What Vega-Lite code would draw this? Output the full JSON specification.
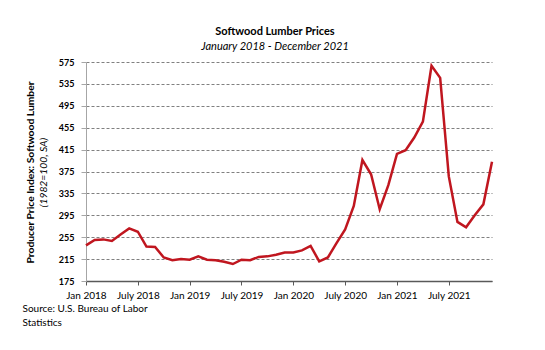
{
  "$schema": "https://vega.github.io/schema/vega-lite/v6.json",
  "width": 406,
  "height": 219,
  "autosize": "none",
  "padding": {"left": 86, "top": 62, "right": 53, "bottom": 69},
  "background": "white",
  "config": {"view": {"stroke": null}, "font": "Lato"},
  "title": {
    "text": "Softwood Lumber Prices",
    "subtitle": "January 2018 - December 2021",
    "font": "Lato", "fontSize": 11, "fontWeight": "bold", "color": "black",
    "subtitleFont": "Lato", "subtitleFontSize": 11, "subtitleFontStyle": "italic", "subtitleColor": "black",
    "anchor": "middle", "dx": -14, "offset": 6, "subtitlePadding": 4
  },
  "data": {"values": [
    {"month": "Jan 2018", "value": 240}, {"month": "Feb 2018", "value": 250}, {"month": "Mar 2018", "value": 251},
    {"month": "Apr 2018", "value": 248}, {"month": "May 2018", "value": 260}, {"month": "June 2018", "value": 271},
    {"month": "July 2018", "value": 265}, {"month": "Aug 2018", "value": 238}, {"month": "Sep 2018", "value": 237},
    {"month": "Oct 2018", "value": 218}, {"month": "Nov 2018", "value": 213}, {"month": "Dec 2018", "value": 215},
    {"month": "Jan 2019", "value": 214}, {"month": "Feb 2019", "value": 220}, {"month": "Mar 2019", "value": 214},
    {"month": "Apr 2019", "value": 213}, {"month": "May 2019", "value": 210}, {"month": "June 2019", "value": 206},
    {"month": "July 2019", "value": 214}, {"month": "Aug 2019", "value": 213}, {"month": "Sep 2019", "value": 219},
    {"month": "Oct 2019", "value": 220}, {"month": "Nov 2019", "value": 223}, {"month": "Dec 2019", "value": 227},
    {"month": "Jan 2020", "value": 227}, {"month": "Feb 2020", "value": 231}, {"month": "Mar 2020", "value": 239},
    {"month": "Apr 2020", "value": 211}, {"month": "May 2020", "value": 218}, {"month": "June 2020", "value": 244},
    {"month": "July 2020", "value": 269}, {"month": "Aug 2020", "value": 312}, {"month": "Sep 2020", "value": 396},
    {"month": "Oct 2020", "value": 370}, {"month": "Nov 2020", "value": 306}, {"month": "Dec 2020", "value": 350},
    {"month": "Jan 2021", "value": 407}, {"month": "Feb 2021", "value": 414}, {"month": "Mar 2021", "value": 437},
    {"month": "Apr 2021", "value": 466}, {"month": "May 2021", "value": 568}, {"month": "June 2021", "value": 546},
    {"month": "July 2021", "value": 366}, {"month": "Aug 2021", "value": 283}, {"month": "Sep 2021", "value": 273},
    {"month": "Oct 2021", "value": 295}, {"month": "Nov 2021", "value": 315}, {"month": "Dec 2021", "value": 393}
  ]},
  "resolve": {"axis": {"y": "independent"}},
  "layer": [
    {
      "mark": {"type": "line", "color": "#C0161F", "strokeWidth": 2.5},
      "encoding": {
        "x": {
          "field": "month", "type": "ordinal", "sort": null,
          "scale": {"type": "point", "padding": 0},
          "axis": {
            "values": ["Jan 2018", "July 2018", "Jan 2019", "July 2019", "Jan 2020", "July 2020", "Jan 2021", "July 2021"],
            "labelAngle": 0, "labelFont": "Lato", "labelFontSize": 10, "labelColor": "black", "labelPadding": 5,
            "domainColor": "#595959", "domainWidth": 1.5, "tickColor": "#595959", "tickSize": 4,
            "grid": false,
            "title": ["Source: U.S. Bureau of Labor", "Statistics"],
            "titleFont": "Lato", "titleFontSize": 10, "titleFontWeight": "normal", "titleColor": "black",
            "titleAnchor": "start", "titleAlign": "left", "titleBaseline": "top",
            "titleX": -64, "titleY": 22, "titleLineHeight": 14
          }
        },
        "y": {
          "field": "value", "type": "quantitative",
          "scale": {"domain": [175, 575], "nice": false, "zero": false},
          "axis": {
            "values": [175, 215, 255, 295, 335, 375, 415, 455, 495, 535, 575],
            "labelFont": "Lato", "labelFontSize": 9, "labelFontWeight": "bold", "labelColor": "black", "labelPadding": 7,
            "domainColor": "#A6A6A6", "tickColor": "#A6A6A6", "tickSize": 5,
            "grid": true, "gridColor": "#808080", "gridDash": [3, 2], "gridWidth": 1,
            "title": "Producer Price Index: Softwood Lumber",
            "titleFont": "Lato", "titleFontSize": 10.3, "titleFontWeight": "bold", "titleColor": "black",
            "titleBaseline": "middle", "titleX": -56, "titleY": 110, "titleAngle": -90
          }
        }
      }
    },
    {
      "mark": {"type": "line", "opacity": 0},
      "encoding": {
        "x": {"field": "month", "type": "ordinal", "sort": null, "scale": {"type": "point", "padding": 0}},
        "y": {
          "field": "value", "type": "quantitative",
          "axis": {
            "orient": "left", "labels": false, "ticks": false, "domain": false, "grid": false,
            "title": "(1982=100, SA)",
            "titleFont": "Lato", "titleFontSize": 10.3, "titleFontWeight": "normal", "titleFontStyle": "italic", "titleColor": "black",
            "titleBaseline": "middle", "titleX": -43, "titleY": 110, "titleAngle": -90
          }
        }
      }
    }
  ]
}
